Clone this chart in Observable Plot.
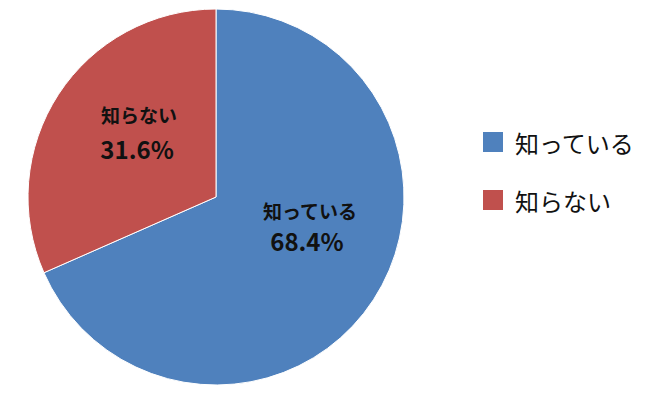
<!DOCTYPE html>
<html><head><meta charset="utf-8">
<script src="https://cdn.jsdelivr.net/npm/d3@7"></script>
<script src="https://cdn.jsdelivr.net/npm/@observablehq/plot@0.6"></script>
<style>
body{margin:0;background:#fff;font-family:"Noto Sans CJK JP","Noto Sans",sans-serif;}
#wrap{position:relative;width:650px;height:404px;}
#legend{position:absolute;left:483px;top:127px;}
.item{display:flex;align-items:center;height:30px;margin-bottom:28px;font-size:24px;color:#111;}
.sw{width:20px;height:20px;margin-right:12px;}
</style></head>
<body><div id="wrap"><div id="legend"></div></div>
<script>
const categories = ["知っている", "知らない"];
const values = [68.4, 31.6];
const colors = ["#4F81BD", "#C0504D"];

const pie = d3.pie().sort(null).value(d => d.value)(categories.map((c, i) => ({name: c, value: values[i]})));
const labelR = 0.53;
const labels = pie.map((a, i) => {
  const m = (a.startAngle + a.endAngle) / 2;
  return {name: a.data.name, pct: a.data.value.toFixed(1) + "%", x: labelR * Math.sin(m), y: labelR * Math.cos(m), i};
});

function pieMark(index, scales) {
  const cx = scales.x(0), cy = scales.y(0), r = scales.x(1) - cx;
  const g = d3.create("svg:g").attr("transform", `translate(${cx},${cy})`);
  const arc = d3.arc().innerRadius(0).outerRadius(r);
  g.selectAll("path").data(pie).join("path")
    .attr("d", arc)
    .attr("fill", d => scales.color(d.data.name))
    .attr("stroke", "#ffffff").attr("stroke-width", 1);
  return g.node();
}

// label nudges (Excel best-fit placement)
const nudges = [{nx: 10, ny: -39, px: 7, py: -8}, {nx: 6, ny: -26, px: 4, py: 8}];
const textStyle = {x: "x", y: "y", fontWeight: "bold", fill: "#111", fontFamily: "'Noto Sans CJK JP', sans-serif"};
const labelMarks = labels.flatMap((d, i) => [
  Plot.text([d], {...textStyle, text: "name", fontSize: 19, dx: nudges[i].nx, dy: nudges[i].ny}),
  Plot.text([d], {...textStyle, text: "pct", fontSize: 24, dx: nudges[i].px, dy: nudges[i].py})
]);

const chart = Plot.plot({
  width: 650, height: 404, margin: 0,
  x: {domain: [-1, 1], range: [28, 404], axis: null},
  y: {domain: [-1, 1], range: [384, 10], axis: null},
  color: {domain: categories, range: colors},
  style: {fontFamily: "'Noto Sans CJK JP', sans-serif", background: "transparent"},
  marks: [pieMark, ...labelMarks]
});
document.getElementById("wrap").prepend(chart);

const legend = document.getElementById("legend");
categories.forEach((c, i) => {
  const item = document.createElement("div");
  item.className = "item";
  const sw = document.createElement("span");
  sw.className = "sw";
  sw.style.background = colors[i];
  const t = document.createElement("span");
  t.textContent = c;
  item.append(sw, t);
  legend.append(item);
});
</script>
</body></html>
